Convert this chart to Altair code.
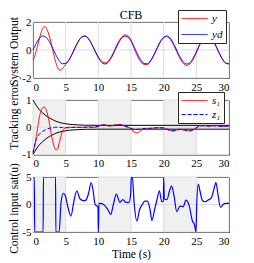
import altair as alt
import pandas as pd

# ---------------- data ----------------
x_ticks = [0, 5, 10, 15, 20, 25, 30]

# panel 1 : desired output y_d and output y
t_yd = [0, 0.5, 1, 1.5, 2, 2.5, 3, 3.5, 4, 4.5, 5, 5.5, 6, 6.5, 7, 7.5, 8, 8.5, 9, 9.5,
        10, 10.5, 11, 11.5, 12, 12.5, 13, 13.5, 14, 14.5, 15, 15.5, 16, 16.5, 17, 17.5,
        18, 18.5, 19, 19.5, 20, 20.5, 21, 21.5, 22, 22.5, 23, 23.5, 24, 24.5, 25, 25.5,
        26, 26.5, 27, 27.5, 28, 28.5, 29, 29.5, 30]
yd = [0.00, 0.48, 0.84, 1.00, 0.91, 0.60, 0.14, -0.35, -0.76, -0.98, -0.96, -0.71, -0.28,
      0.22, 0.66, 0.94, 0.99, 0.80, 0.41, -0.08, -0.54, -0.88, -1.00, -0.88, -0.54, -0.07,
      0.42, 0.80, 0.99, 0.93, 0.65, 0.20, -0.29, -0.71, -0.96, -0.98, -0.75, -0.34, 0.15,
      0.61, 0.91, 1.00, 0.84, 0.47, -0.01, -0.49, -0.85, -1.00, -0.91, -0.59, -0.13, 0.36,
      0.76, 0.98, 0.96, 0.71, 0.27, -0.23, -0.66, -0.94, -0.99]

t_y = [0, 0.25, 0.5, 0.75, 1, 1.25, 1.5, 1.75, 2, 2.25, 2.5, 2.75, 3, 3.25, 3.5, 3.75, 4,
       4.25, 4.5, 4.75, 5, 5.5, 6, 6.5, 7, 7.5, 8, 8.5, 9, 9.5, 10, 10.5, 11, 11.5, 12,
       12.5, 13, 13.5, 14, 14.5, 15, 15.5, 16, 16.5, 17, 17.5, 18, 18.5, 19, 19.5, 20,
       20.5, 21, 21.5, 22, 22.5, 23, 23.5, 24, 24.5, 25, 25.5, 26, 26.5, 27, 27.5, 28,
       28.5, 29, 29.5, 30]
y = [-0.72, -0.45, -0.05, 0.40, 0.85, 1.25, 1.55, 1.68, 1.60, 1.35, 1.00, 0.55, 0.05,
     -0.45, -0.90, -1.25, -1.42, -1.43, -1.33, -1.18, -1.02, -0.72, -0.28, 0.22, 0.66,
     0.94, 0.99, 0.80, 0.41, -0.06, -0.48, -0.80, -0.92, -0.80, -0.46, 0.01, 0.50, 0.88,
     1.08, 1.02, 0.70, 0.10, -0.45, -0.85, -1.02, -1.03, -0.80, -0.38, 0.10, 0.57, 0.88,
     0.96, 0.76, 0.37, -0.12, -0.60, -0.95, -1.10, -1.01, -0.70, -0.20, 0.38, 0.80, 1.01,
     0.99, 0.74, 0.30, -0.20, -0.64, -0.93, -0.99]

# panel 2 : tracking errors s1, z1 and the prescribed envelope
t_s1 = [0, 0.25, 0.5, 0.75, 1, 1.25, 1.5, 1.75, 2, 2.25, 2.5, 2.75, 3, 3.25, 3.5, 3.75,
        4, 4.25, 4.5, 4.75, 5, 5.5, 6, 6.5, 7, 7.5, 8, 8.5, 9, 9.5, 10, 10.5, 11, 11.5,
        12, 12.5, 13, 13.5, 14, 14.5, 15, 15.5, 16, 16.5, 17, 17.5, 18, 18.5, 19, 19.5,
        20, 20.5, 21, 21.5, 22, 22.5, 23, 23.5, 24, 24.5, 25, 25.5, 26, 26.5, 27, 27.5,
        28, 28.5, 29, 29.5, 30]
s1 = [-0.90, -0.70, -0.35, 0.05, 0.40, 0.62, 0.72, 0.74, 0.65, 0.45, 0.15, -0.20, -0.50,
      -0.72, -0.83, -0.80, -0.60, -0.35, -0.15, -0.05, -0.02, 0.00, 0.00, 0.00, -0.01,
      0.00, 0.00, 0.01, 0.00, 0.00, 0.03, 0.08, 0.09, 0.05, 0.05, 0.08, 0.10, 0.09, 0.04,
      0.00, -0.05, -0.18, -0.20, -0.12, -0.06, -0.05, -0.04, -0.03, -0.02, -0.02, -0.02,
      -0.08, -0.12, -0.14, -0.10, -0.08, -0.10, -0.12, -0.14, -0.10, -0.02, 0.05, 0.06,
      0.05, 0.04, 0.05, 0.06, 0.04, 0.03, 0.04, 0.05]

t_z1 = [0, 0.25, 0.5, 0.75, 1, 1.5, 2, 2.5, 3, 3.5, 4, 4.5, 5, 5.5, 6, 6.5, 7, 7.5, 8,
        8.5, 9, 9.5, 10, 10.5, 11, 11.5, 12, 12.5, 13, 13.5, 14, 14.5, 15, 15.5, 16,
        16.5, 17, 17.5, 18, 18.5, 19, 19.5, 20, 20.5, 21, 21.5, 22, 22.5, 23, 23.5, 24,
        24.5, 25, 25.5, 26, 26.5, 27, 27.5, 28, 28.5, 29, 29.5, 30]
z1 = [-0.95, -0.65, -0.45, -0.33, -0.25, -0.15, -0.08, -0.04, -0.02, 0.00, 0.00, -0.01,
      -0.02, -0.02, -0.01, 0.00, 0.00, 0.00, 0.00, 0.01, 0.00, 0.01, 0.03, 0.07, 0.08,
      0.06, 0.05, 0.07, 0.09, 0.08, 0.05, 0.01, -0.04, -0.08, -0.08, -0.06, -0.05, -0.04,
      -0.04, -0.03, -0.02, -0.02, -0.03, -0.07, -0.11, -0.12, -0.10, -0.08, -0.09, -0.11,
      -0.12, -0.09, -0.02, 0.04, 0.05, 0.05, 0.04, 0.05, 0.05, 0.04, 0.03, 0.04, 0.04]

t_env = [0, 0.5, 1, 1.5, 2, 2.5, 3, 3.5, 4, 4.5, 5, 5.5, 6, 7, 8, 10, 30]
env_up = [1.00, 0.80, 0.64, 0.52, 0.42, 0.34, 0.28, 0.22, 0.18, 0.15, 0.13, 0.11, 0.10,
          0.085, 0.075, 0.07, 0.07]
env_lo = [-1.00, -0.80, -0.64, -0.52, -0.42, -0.34, -0.28, -0.22, -0.18, -0.15, -0.13,
          -0.11, -0.10, -0.085, -0.075, -0.07, -0.07]

# panel 3 : saturated control input
t_u = [0, 0.2, 0.25, 1.55, 1.6, 3.45, 3.5, 4.0, 4.3, 4.65, 4.95, 5.35, 5.8, 6.25, 6.7,
       7.2, 7.7, 8.1, 8.5, 8.9, 9.2, 9.5, 9.8, 9.95, 10.0, 10.1, 10.3, 10.8, 11.4, 11.9,
       12.3, 12.75, 13.3, 13.75, 14.2, 14.7, 14.95, 15.05, 15.2, 15.5, 15.9, 16.3, 16.7,
       17.1, 17.5, 17.9, 18.2, 18.6, 19.0, 19.35, 19.7, 19.95, 20.0, 20.1, 20.5, 20.9,
       21.2, 21.6, 22.0, 22.5, 23.0, 23.4, 23.9, 24.4, 24.7, 24.95, 25.05, 25.3, 25.55,
       25.9, 26.3, 26.8, 27.3, 27.7, 28.0, 28.35, 28.7, 29.1, 29.5, 30.0]
u = [5, 5, -5, -5, 5, 5, -5, -5, 0.5, 2.05, 1.6, -0.5, -2.1, 0.5, 2.5, 1.0, 0.7, 0.8,
     2.0, 4.0, 2.5, 0.05, -0.3, -0.5, -5, 0.2, 0.2, 0.0, -0.8, -1.8, 0.0, 1.9, 0.4, 0.9,
     0.4, 0.4, 2.0, 5, 5, 0.0, -3.0, -1.0, -0.05, 0.6, 0.6, -0.8, -2.9, -1.0, 1.0, 2.5,
     0.5, 0.6, 5, 1.0, 0.9, 2.5, 3.4, 1.5, -1.3, -0.3, -0.4, 0.8, -0.2, -3.0, -3.6, -5,
     -0.5, 3.7, 2.5, 0.8, 0.5, 0.8, 1.2, 2.8, 4.0, 1.5, -0.5, 0.0, 0.2, 0.2]

band_start = [0, 10, 20]
band_end = [5, 15, 25]

# ---------------- chart ----------------
FONT = "Liberation Serif"
W = 196
FRAME = "#262626"
GRID = "#dcdcdc"
BAND = "#f0f0f0"
RED, BLUE = "#ff0000", "#0000ff"
LINE_SYMBOL = "M-1,0H4.2"   # a 26 px long line at size 100


def xenc(field, title=None):
    return alt.X(field, type="quantitative",
                 scale=alt.Scale(domain=[0, 30], nice=False, zero=False),
                 axis=alt.Axis(values=x_ticks, title=title))


def yenc(field, dom, vals, title, ty):
    return alt.Y(field, type="quantitative",
                 scale=alt.Scale(domain=dom, nice=False, zero=False),
                 axis=alt.Axis(values=vals, title=title, titleY=ty,
                               labelExpr="datum.value + ''"))


def grid_layers(dom, yvals, ytitle, ty, xtitle=None):
    gx = alt.Chart(pd.DataFrame({"g": x_ticks})).mark_rule(
        color=GRID, strokeWidth=1).encode(x=xenc("g", xtitle))
    gy = alt.Chart(pd.DataFrame({"g": yvals})).mark_rule(
        color=GRID, strokeWidth=1).encode(y=yenc("g", dom, yvals, ytitle, ty))
    return [gx, gy]


def bands(xtitle=None):
    d = pd.DataFrame({"a": band_start, "b": band_end})
    return alt.Chart(d).mark_rect(color=BAND).encode(
        x=xenc("a", xtitle), x2="b")


def legend(ly, rp, pad):
    return alt.Legend(title=None, orient="none", legendX=145, legendY=ly,
                      symbolType=LINE_SYMBOL, symbolSize=100, symbolStrokeWidth=1,
                      labelFont=FONT, labelFontStyle="italic", labelFontSize=11,
                      labelColor="black", fillColor="white", strokeColor=FRAME,
                      padding=pad, rowPadding=rp, labelOffset=20)


def series_enc(names, dashes, ly, rp, pad):
    lg = legend(ly, rp, pad)
    return dict(
        color=alt.Color("s:N", scale=alt.Scale(domain=names, range=[RED, BLUE]),
                        legend=lg),
        strokeDash=alt.StrokeDash("s:N", scale=alt.Scale(domain=names, range=dashes),
                                  legend=lg),
    )


# panel 1
dom1, yv1, ty1 = [-2, 2], [-2, 0, 2], 29
df1 = pd.concat([
    pd.DataFrame({"t": t_y, "v": y, "s": "y"}),
    pd.DataFrame({"t": t_yd, "v": yd, "s": "yd"}),
])
lines1 = alt.Chart(df1).mark_line(strokeWidth=1, interpolate="monotone").encode(
    x=xenc("t"), y=yenc("v", dom1, yv1, "System Output", ty1),
    **series_enc(["y", "yd"], [[1, 0], [1, 0]], -12, 4, 3),
)
p1 = alt.layer(*grid_layers(dom1, yv1, "System Output", ty1), lines1).properties(
    width=W, height=56,
    title=alt.Title("CFB", font=FONT, fontSize=12, fontWeight="normal",
                    color="black", offset=-12))

# panel 2
dom2, yv2, ty2 = [-1, 1], [-1, 0, 1], 16
df2 = pd.concat([
    pd.DataFrame({"t": t_s1, "v": s1, "s": "s₁"}),
    pd.DataFrame({"t": t_z1, "v": z1, "s": "z₁"}),
])
dfe = pd.concat([
    pd.DataFrame({"t": t_env, "v": env_up, "b": "up"}),
    pd.DataFrame({"t": t_env, "v": env_lo, "b": "lo"}),
])
env = alt.Chart(dfe).mark_line(strokeWidth=1, color="black",
                               interpolate="monotone").encode(
    x=xenc("t"), y=yenc("v", dom2, yv2, "Tracking error", ty2), detail="b:N")
lines2 = alt.Chart(df2).mark_line(strokeWidth=1, interpolate="monotone").encode(
    x=xenc("t"), y=yenc("v", dom2, yv2, "Tracking error", ty2),
    **series_enc(["s₁", "z₁"], [[1, 0], [4, 2]], -8, 2, 3),
)
p2 = alt.layer(bands(),
               *grid_layers(dom2, yv2, "Tracking error", ty2),
               env, lines2).properties(width=W, height=54.5)

# panel 3
dom3, yv3, ty3 = [-5, 5], [-5, 0, 5], 31
df3 = pd.DataFrame({"t": t_u, "v": u})
line3 = alt.Chart(df3).mark_line(strokeWidth=1.2, color=BLUE,
                                 interpolate="monotone", clip=True).encode(
    x=xenc("t", "Time (s)"),
    y=yenc("v", dom3, yv3, "Control input sat(u)", ty3))
p3 = alt.layer(bands("Time (s)"),
               *grid_layers(dom3, yv3, "Control input sat(u)", ty3, "Time (s)"),
               line3).properties(width=W, height=55)

chart = alt.vconcat(p1, p2, p3, spacing=22, bounds="flush").resolve_scale(
    color="independent", strokeDash="independent"
).properties(
    padding={"left": 0, "top": 0, "right": 2, "bottom": 0}
).configure_view(stroke=FRAME, strokeWidth=1).configure_axis(
    grid=False, domain=False, ticks=False,
    labelFont=FONT, labelFontSize=11, labelColor="black", labelPadding=2,
    titleFont=FONT, titleFontSize=11.5, titleFontWeight="normal",
    titleColor="black", titlePadding=2,
).configure_axisX(labelPadding=3, titlePadding=2)

chart.save("out.html", embed_options={"renderer": "svg", "actions": False})
